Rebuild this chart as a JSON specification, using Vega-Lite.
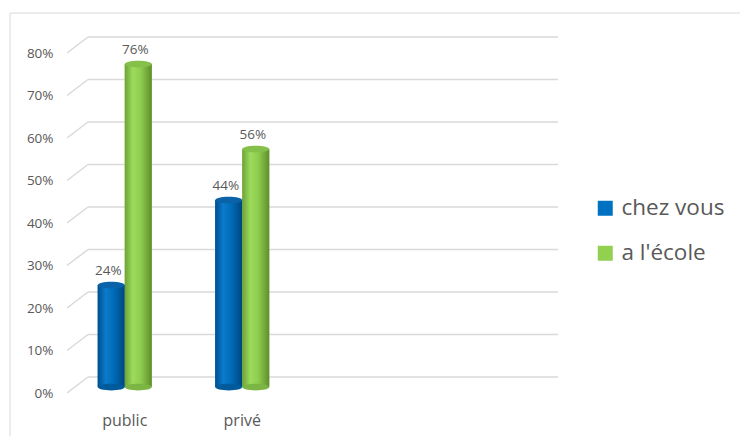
{
  "$schema": "https://vega.github.io/schema/vega-lite/v6.json",
  "width": 470,
  "height": 340,
  "autosize": {"type": "none"},
  "padding": {"left": 66, "top": 47, "right": 204, "bottom": 49},
  "background": "white",
  "config": {"view": {"stroke": null}, "font": "Open Sans"},
  "datasets": {
    "bars": [
      {"category": "public", "series": "chez vous", "value": 0.24},
      {"category": "public", "series": "a l'école", "value": 0.76},
      {"category": "privé", "series": "chez vous", "value": 0.44},
      {"category": "privé", "series": "a l'école", "value": 0.56}
    ],
    "grid": [
      {"value": 0}, {"value": 0.1}, {"value": 0.2}, {"value": 0.3}, {"value": 0.4},
      {"value": 0.5}, {"value": 0.6}, {"value": 0.7}, {"value": 0.8}
    ],
    "frame": [{"f": 1}]
  },
  "layer": [
    {
      "data": {"name": "frame"},
      "mark": {"type": "rect", "filled": false, "stroke": "#d9d9d9", "strokeWidth": 1, "xOffset": -56, "x2Offset": 205, "yOffset": -34, "y2Offset": 52},
      "encoding": {
        "x": {"datum": 0, "type": "quantitative", "scale": {"domain": [0, 1]}, "axis": null},
        "x2": {"datum": 1},
        "y": {"datum": 0.8, "type": "quantitative", "scale": {"domain": [0, 0.8]}, "axis": null},
        "y2": {"datum": 0}
      }
    },
    {
      "data": {"name": "grid"},
      "mark": {"type": "rule", "stroke": "#d9d9d9", "strokeWidth": 1.5, "xOffset": 1, "x2Offset": 22, "yOffset": 6, "y2Offset": -10},
      "encoding": {
        "x": {"datum": 0, "type": "quantitative", "scale": {"domain": [0, 1]}, "axis": null},
        "x2": {"datum": 0},
        "y": {"field": "value", "type": "quantitative", "scale": {"domain": [0, 0.8]}, "axis": null},
        "y2": {"field": "value"}
      }
    },
    {
      "data": {"name": "grid"},
      "mark": {"type": "rule", "stroke": "#d9d9d9", "strokeWidth": 1.5, "xOffset": 22, "x2Offset": 22, "yOffset": -10, "y2Offset": -10},
      "encoding": {
        "x": {"datum": 0, "type": "quantitative", "scale": {"domain": [0, 1]}, "axis": null},
        "x2": {"datum": 1},
        "y": {"field": "value", "type": "quantitative", "scale": {"domain": [0, 0.8]}, "axis": null}
      }
    },
    {
      "data": {"name": "bars"},
      "mark": {"type": "bar"},
      "encoding": {
        "x": {"field": "category", "type": "nominal", "sort": null,
          "scale": {"domain": ["public", "privé", " ", "  "], "paddingInner": 0.54, "paddingOuter": 0.27},
          "axis": {"title": null, "domain": false, "ticks": false, "tickSize": 0, "labelAngle": 0, "labelPadding": 25, "labelFontSize": 16, "labelColor": "#595959"}},
        "xOffset": {"field": "series", "type": "nominal", "sort": null, "scale": {"domain": ["chez vous", "a l'école"], "paddingInner": 0, "paddingOuter": 0}},
        "y": {"field": "value", "type": "quantitative", "scale": {"domain": [0, 0.8]},
          "axis": {"values": [0, 0.1, 0.2, 0.3, 0.4, 0.5, 0.6, 0.7, 0.8], "format": ".0%", "title": null, "domain": false, "ticks": false, "tickSize": 0, "grid": false, "labelPadding": 13, "labelOffset": 6, "labelFontSize": 13.5, "labelColor": "#595959"}},
        "color": {"field": "series", "type": "nominal",
          "scale": {"domain": ["chez vous", "a l'école"], "range": ["#0070C0", "#92D050"]},
          "legend": {"title": null, "orient": "none", "legendX": 528, "legendY": 150, "symbolType": "square", "symbolSize": 225, "symbolStrokeWidth": 0, "labelFontSize": 22.5, "labelColor": "#595959", "rowPadding": 22, "labelOffset": 5}}
      }
    },
    {
      "data": {"name": "bars"},
      "mark": {"type": "bar"},
      "encoding": {
        "x": {"field": "category", "type": "nominal", "sort": null,
          "scale": {"domain": ["public", "privé", " ", "  "], "paddingInner": 0.54, "paddingOuter": 0.27}, "axis": null},
        "xOffset": {"field": "series", "type": "nominal", "sort": null, "scale": {"domain": ["chez vous", "a l'école"], "paddingInner": 0, "paddingOuter": 0}},
        "y": {"field": "value", "type": "quantitative", "scale": {"domain": [0, 0.8]}, "axis": null},
        "color": {
          "condition": {"test": "datum.series === 'chez vous'",
            "value": {"gradient": "linear", "x1": 0, "x2": 1, "y1": 0, "y2": 0,
              "stops": [{"offset": 0, "color": "#004f8e"}, {"offset": 0.3, "color": "#0b7bcb"}, {"offset": 0.6, "color": "#006bb8"}, {"offset": 1, "color": "#00467e"}]}},
          "value": {"gradient": "linear", "x1": 0, "x2": 1, "y1": 0, "y2": 0,
            "stops": [{"offset": 0, "color": "#6ea236"}, {"offset": 0.3, "color": "#9cdb5c"}, {"offset": 0.6, "color": "#8dcc4d"}, {"offset": 1, "color": "#5f8e2d"}]}
        }
      }
    },
    {
      "data": {"name": "bars"},
      "mark": {"type": "point", "filled": true, "opacity": 1, "strokeWidth": 0, "size": 729, "shape": "M-1,0A1,0.25,0,1,0,1,0A1,0.25,0,1,0,-1,0Z"},
      "encoding": {
        "x": {"field": "category", "type": "nominal", "sort": null,
          "scale": {"domain": ["public", "privé", " ", "  "], "paddingInner": 0.54, "paddingOuter": 0.27}, "axis": null},
        "xOffset": {"field": "series", "type": "nominal", "sort": null, "scale": {"type": "point", "domain": ["chez vous", "a l'école"], "padding": 0.5}},
        "y": {"datum": 0, "type": "quantitative", "scale": {"domain": [0, 0.8]}, "axis": null},
        "color": {"condition": {"test": "datum.series === 'chez vous'", "value": "#005a9c"}, "value": "#7bb543"}
      }
    },
    {
      "data": {"name": "bars"},
      "mark": {"type": "point", "filled": true, "opacity": 1, "strokeWidth": 0, "size": 729, "shape": "M-1,0A1,0.25,0,1,0,1,0A1,0.25,0,1,0,-1,0Z"},
      "encoding": {
        "x": {"field": "category", "type": "nominal", "sort": null,
          "scale": {"domain": ["public", "privé", " ", "  "], "paddingInner": 0.54, "paddingOuter": 0.27}, "axis": null},
        "xOffset": {"field": "series", "type": "nominal", "sort": null, "scale": {"type": "point", "domain": ["chez vous", "a l'école"], "padding": 0.5}},
        "y": {"field": "value", "type": "quantitative", "scale": {"domain": [0, 0.8]}, "axis": null},
        "color": {"condition": {"test": "datum.series === 'chez vous'", "value": "#0a63a8"}, "value": "#84c04a"}
      }
    },
    {
      "data": {"name": "bars"},
      "mark": {"type": "text", "dy": -10, "dx": -3, "baseline": "alphabetic", "fontSize": 13.5, "color": "#595959"},
      "encoding": {
        "x": {"field": "category", "type": "nominal", "sort": null,
          "scale": {"domain": ["public", "privé", " ", "  "], "paddingInner": 0.54, "paddingOuter": 0.27}, "axis": null},
        "xOffset": {"field": "series", "type": "nominal", "sort": null, "scale": {"type": "point", "domain": ["chez vous", "a l'école"], "padding": 0.5}},
        "y": {"field": "value", "type": "quantitative", "scale": {"domain": [0, 0.8]}, "axis": null},
        "text": {"field": "value", "type": "quantitative", "format": ".0%"}
      }
    }
  ],
  "resolve": {"scale": {"x": "independent", "xOffset": "independent"}, "axis": {"y": "independent"}}
}
